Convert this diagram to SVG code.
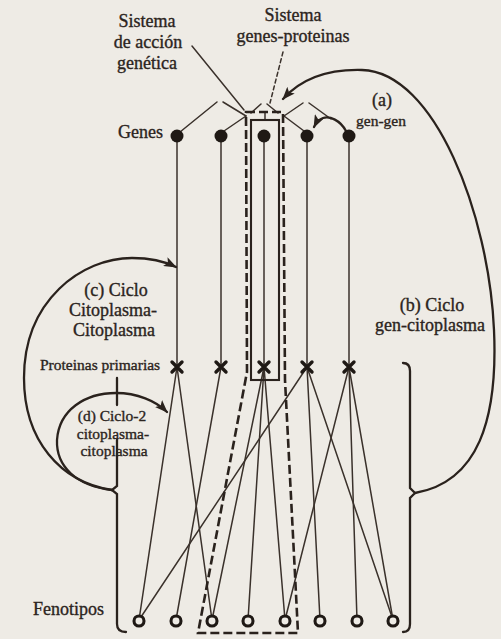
<svg xmlns="http://www.w3.org/2000/svg" xmlns:xlink="http://www.w3.org/1999/xlink" width="501" height="639" viewBox="0 0 501 639">
<defs>
<style>
.bg{fill:#eeebe5}
.ln{fill:none;stroke:#3a312b;stroke-width:1.5;stroke-linecap:round}
.arc{fill:none;stroke:#2a221d;stroke-width:2.3;stroke-linecap:round}
.dash{fill:none;stroke:#2a221d;stroke-width:2.6;stroke-dasharray:9 4}
.box{fill:none;stroke:#2a221d;stroke-width:2.1}
.gene{fill:#1f1915}
.cross{fill:none;stroke:#1f1915;stroke-width:3.4;stroke-linecap:round}
.phen{fill:#eeebe5;stroke:#1f1915;stroke-width:3.1}
.t{font-family:"Liberation Serif","Times New Roman",serif;fill:#2b2420;stroke:#2b2420;stroke-width:0.35;font-size:18px}
.s{font-size:15.5px}
.c{text-anchor:middle}
</style>
<marker id="ah" markerUnits="userSpaceOnUse" markerWidth="14" markerHeight="10" refX="12" refY="5" orient="auto">
<path d="M0,0 L13,5 L0,10 L3,5 z" fill="#2a221d"/>
</marker>
<path id="xm" d="M-5,-5 L5,5 M5,-5 L-5,5"/>
</defs>
<rect class="bg" x="0" y="0" width="501" height="639"/>

<g id="connectors">
<!-- gene to primary protein -->
<line class="ln" x1="177" y1="136" x2="177" y2="367"/>
<line class="ln" x1="221" y1="136" x2="221" y2="367"/>
<line class="ln" x1="264" y1="136" x2="264" y2="367"/>
<line class="ln" x1="307" y1="136" x2="307" y2="367"/>
<line class="ln" x1="349" y1="136" x2="349" y2="367"/>
<!-- gene interaction carets -->
<line class="ln" x1="180" y1="132" x2="217" y2="102"/>
<line class="ln" x1="223" y1="102" x2="246" y2="116"/>
<line class="ln" x1="224" y1="131" x2="246" y2="116"/>
<line class="ln" x1="251" y1="113" x2="261" y2="104"/>
<line class="ln" x1="267" y1="104" x2="278" y2="113"/>
<line class="ln" x1="265" y1="112" x2="265" y2="120"/>
<line class="ln" x1="304" y1="131" x2="284" y2="116"/>
<line class="ln" x1="284" y1="116" x2="303" y2="103"/>
<line class="ln" x1="309" y1="103" x2="331" y2="119"/>
<!-- protein to phenotype -->
<line class="ln" x1="177" y1="367" x2="139" y2="620"/>
<line class="ln" x1="177" y1="367" x2="212" y2="620"/>
<line class="ln" x1="221" y1="367" x2="176" y2="620"/>
<line class="ln" x1="264" y1="367" x2="212" y2="620"/>
<line class="ln" x1="264" y1="367" x2="248" y2="620"/>
<line class="ln" x1="264" y1="367" x2="285" y2="620"/>
<line class="ln" x1="307" y1="367" x2="139" y2="620"/>
<line class="ln" x1="307" y1="367" x2="320" y2="620"/>
<line class="ln" x1="307" y1="367" x2="393" y2="620"/>
<line class="ln" x1="349" y1="367" x2="285" y2="620"/>
<line class="ln" x1="349" y1="367" x2="357" y2="620"/>
<line class="ln" x1="349" y1="367" x2="393" y2="620"/>
<!-- systems -->
<rect class="box" x="251" y="120" width="28" height="260"/>
<path class="dash" d="M246,112 L283,112 L285,380 L298,633 L198,633 L247,372 Z"/>
<!-- label pointers -->
<line class="ln" x1="192" y1="46" x2="244" y2="110"/>
<line class="ln" x1="283" y1="52" x2="270" y2="103" stroke-dasharray="4 3"/>
<!-- brackets -->
<path class="arc" d="M117,378 L117,405 M117,440 L117,486 L112,490 L117,494 L117,624 Q117,632 126,632"/>
<path class="arc" d="M403,363 Q410,363 410,371 L410,488 L415,493 L410,498 L410,624 Q410,632 403,632"/>
<!-- cycle arcs -->
<path class="arc" d="M415,493 C478,482 498,420 494,330 C489,215 435,72 362,70 C325,69 300,80 283,99" marker-end="url(#ah)"/>
<path class="arc" d="M112,490 C60,482 24,440 24,378 C24,300 82,258 132,258 C152,258 166,262 176,267" marker-end="url(#ah)"/>
<path class="arc" d="M112,490 C76,486 56,466 57,440 C59,410 85,393 116,393 C137,393 156,401 167,412" marker-end="url(#ah)"/>
<path class="arc" d="M346,131 C340,120 330,116 323,118 C318,120 316,123 314,127" marker-end="url(#ah)"/>
</g>

<g id="genes">
<g id="gene1"><circle class="gene" cx="177" cy="136" r="6.5"/></g>
<g id="gene2"><circle class="gene" cx="221" cy="136" r="6.5"/></g>
<g id="gene3"><circle class="gene" cx="264" cy="136" r="6.5"/></g>
<g id="gene4"><circle class="gene" cx="307" cy="136" r="6.5"/></g>
<g id="gene5"><circle class="gene" cx="349" cy="136" r="6.5"/></g>
</g>

<g id="proteins">
<g id="prot1"><use xlink:href="#xm" href="#xm" class="cross" x="177" y="367"/></g>
<g id="prot2"><use xlink:href="#xm" href="#xm" class="cross" x="221" y="367"/></g>
<g id="prot3"><use xlink:href="#xm" href="#xm" class="cross" x="264" y="367"/></g>
<g id="prot4"><use xlink:href="#xm" href="#xm" class="cross" x="307" y="367"/></g>
<g id="prot5"><use xlink:href="#xm" href="#xm" class="cross" x="349" y="367"/></g>
</g>

<g id="phenotypes">
<g id="phen1"><circle class="phen" cx="139" cy="621" r="5"/></g>
<g id="phen2"><circle class="phen" cx="176" cy="621" r="5"/></g>
<g id="phen3"><circle class="phen" cx="212" cy="621" r="5"/></g>
<g id="phen4"><circle class="phen" cx="248" cy="621" r="5"/></g>
<g id="phen5"><circle class="phen" cx="285" cy="621" r="5"/></g>
<g id="phen6"><circle class="phen" cx="320" cy="621" r="5"/></g>
<g id="phen7"><circle class="phen" cx="357" cy="621" r="5"/></g>
<g id="phen8"><circle class="phen" cx="393" cy="621" r="5"/></g>
</g>

<g id="labels">
<text class="t c" x="147" y="27">Sistema</text>
<text class="t c" x="148" y="48">de acción</text>
<text class="t c" x="147" y="69">genética</text>
<text class="t c" x="293" y="21">Sistema</text>
<text class="t c" x="293" y="42">genes-proteinas</text>
<text class="t c" x="382" y="106">(a)</text>
<text class="t c s" x="381" y="126">gen-gen</text>
<text class="t" x="163" y="138" text-anchor="end">Genes</text>
<text class="t c" x="116" y="296">(c) Ciclo</text>
<text class="t c" x="113" y="316">Citoplasma-</text>
<text class="t c" x="114" y="336">Citoplasma</text>
<text class="t s" x="40" y="370">Proteinas primarias</text>
<text class="t c s" x="112" y="421">(d) Ciclo-2</text>
<text class="t c s" x="113" y="439">citoplasma-</text>
<text class="t c s" x="114" y="456">citoplasma</text>
<text class="t c" x="432" y="311">(b) Ciclo</text>
<text class="t c" x="430" y="331">gen-citoplasma</text>
<text class="t" x="33" y="615">Fenotipos</text>
</g>
</svg>
